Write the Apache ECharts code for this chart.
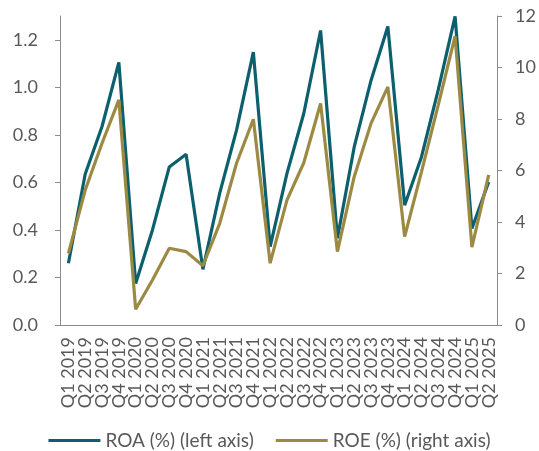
<!DOCTYPE html>
<html>
<head>
<meta charset="utf-8">
<script src="https://cdn.jsdelivr.net/npm/echarts@6/dist/echarts.min.js"></script>
<style>
html,body{margin:0;padding:0;background:#fff;}
#c{width:539px;height:451px;}
</style>
</head>
<body>
<div id="c"></div>
<script>
const categories = ["Q1 2019","Q2 2019","Q3 2019","Q4 2019","Q1 2020","Q2 2020","Q3 2020","Q4 2020","Q1 2021","Q2 2021","Q3 2021","Q4 2021","Q1 2022","Q2 2022","Q3 2022","Q4 2022","Q1 2023","Q2 2023","Q3 2023","Q4 2023","Q1 2024","Q2 2024","Q3 2024","Q4 2024","Q1 2025","Q2 2025"];
const roa = [0.26,0.635,0.835,1.105,0.175,0.40,0.665,0.718,0.234,0.555,0.82,1.148,0.33,0.638,0.89,1.239,0.365,0.749,1.029,1.256,0.504,0.707,0.99,1.298,0.406,0.602];
const roe = [2.78,5.24,7.06,8.74,0.61,1.75,2.98,2.85,2.30,3.95,6.28,7.99,2.40,4.85,6.30,8.60,2.85,5.76,7.83,9.25,3.43,5.95,8.55,11.22,3.02,5.83];
const leftTicks = {min:0, max:1.3, interval:0.2};
const rightTicks = {min:0, max:12, interval:2};

const FONT = 'Lato';
const LBL = '#595959';
const AX = '#8c8c8c';
const chart = echarts.init(document.getElementById('c'), null, {renderer:'canvas'});
chart.setOption({
  animation:false,
  textStyle:{fontFamily:FONT},
  grid:{left:60,right:41,top:16,bottom:126,containLabel:false},
  legend:{
    top:426, left:'center', itemWidth:52, itemHeight:3, itemGap:22,
    icon:'rect',
    textStyle:{fontFamily:FONT,fontSize:19,color:LBL},
    data:['ROA (%) (left axis)','ROE (%) (right axis)']
  },
  xAxis:{
    type:'category', data:categories, boundaryGap:true,
    axisLine:{lineStyle:{color:AX,width:1}},
    axisTick:{interval:0,length:5,lineStyle:{color:AX}},
    axisLabel:{interval:0,rotate:90,fontFamily:FONT,fontSize:18,color:LBL,margin:12}
  },
  yAxis:[
    {type:'value',position:'left',min:leftTicks.min,max:leftTicks.max,interval:leftTicks.interval,
     splitLine:{show:false},
     axisLine:{show:true,lineStyle:{color:AX}},
     axisTick:{show:true,length:5,lineStyle:{color:AX}},
     axisLabel:{showMaxLabel:false,formatter:v=>v.toFixed(1),fontFamily:FONT,fontSize:18,color:LBL,margin:22}},
    {type:'value',position:'right',min:rightTicks.min,max:rightTicks.max,interval:rightTicks.interval,
     splitLine:{show:false},
     axisLine:{show:true,lineStyle:{color:AX}},
     axisTick:{show:true,length:5,lineStyle:{color:AX}},
     axisLabel:{fontFamily:FONT,fontSize:18,color:LBL,margin:18}}
  ],
  series:[
    {name:'ROA (%) (left axis)',type:'line',yAxisIndex:0,data:roa,symbol:'none',
     lineStyle:{color:'#0c5f6d',width:3.2},itemStyle:{color:'#0c5f6d'}},
    {name:'ROE (%) (right axis)',type:'line',yAxisIndex:1,data:roe,symbol:'none',
     lineStyle:{color:'#9c8a44',width:3.2},itemStyle:{color:'#9c8a44'}}
  ]
});
</script>
</body>
</html>
